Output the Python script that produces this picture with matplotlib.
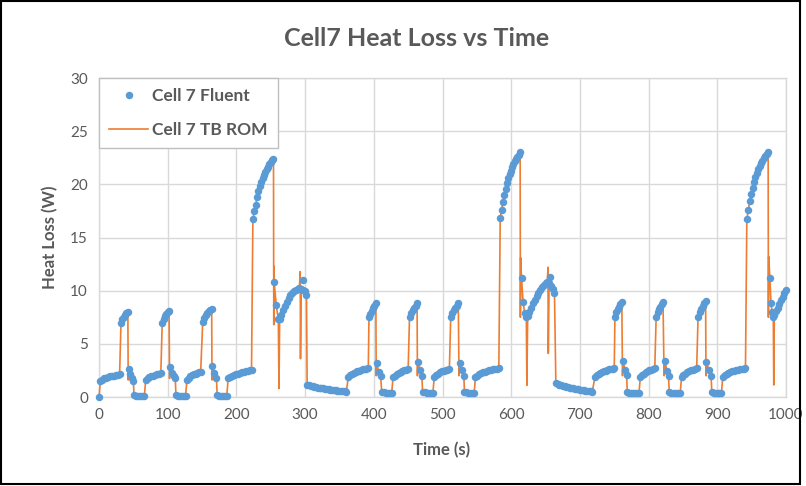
import numpy as np
import matplotlib
matplotlib.use('Agg')
import matplotlib.pyplot as plt
import matplotlib.patches as mpatches
from matplotlib.lines import Line2D

plt.rcParams['font.family'] = ['Lato', 'DejaVu Sans']

# Fluent samples, piece by piece: (start time s, end time s, heat loss W)
cycle1 = [
    (0, 0, [0.0]),
    (2, 30, [1.52, 1.64, 1.74, 1.82, 1.88, 1.93, 1.98, 2.02, 2.06, 2.10, 2.13]),
    (32, 42, [6.95, 7.3, 7.55, 7.75, 7.9, 8.03]),
    (43, 50, [2.6, 2.15, 1.76, 1.5]),
    (51, 66, [0.15, 0.12, 0.1, 0.1, 0.1, 0.1]),
    (68, 90, [1.6, 1.75, 1.86, 1.95, 2.02, 2.08, 2.13, 2.18, 2.22]),
    (92, 102, [6.95, 7.35, 7.6, 7.8, 7.98, 8.12]),
    (103.5, 111, [2.8, 2.3, 1.95, 1.76]),
    (112, 126, [0.15, 0.12, 0.1, 0.1, 0.1, 0.1]),
    (128, 148, [1.62, 1.8, 1.93, 2.03, 2.12, 2.2, 2.27, 2.33, 2.38]),
    (151, 164, [7.08, 7.45, 7.7, 7.9, 8.05, 8.15, 8.25]),
    (165, 171, [2.9, 2.25, 1.76]),
    (172, 186, [0.15, 0.12, 0.1, 0.1, 0.1, 0.1]),
    (188, 222, [1.76, 1.9, 2.0, 2.08, 2.15, 2.21, 2.27, 2.32, 2.37, 2.41, 2.45, 2.5, 2.54]),
    (224, 254, [16.7, 17.45, 18.06, 18.8, 19.35, 19.8, 20.2, 20.55, 20.85, 21.15,
                21.4, 21.65, 21.9, 22.1, 22.25, 22.4]),
    (255, 261, [10.8, 8.65, 7.3]),
    (263, 302, [7.35, 7.75, 8.15, 8.55, 8.95, 9.3, 9.55, 9.8, 9.95, 10.08,
                10.18, 10.22, 10.2, 10.1, 9.95, 9.6]),
    (303, 360, [1.15, 1.1, 1.05, 1.0, 0.96, 0.92, 0.89, 0.86, 0.83, 0.8, 0.77, 0.74,
                0.71, 0.69, 0.66, 0.64, 0.62, 0.6, 0.58, 0.56, 0.54, 0.52, 0.5]),
]

cycle2 = [
    (363, 392, [1.91, 2.05, 2.17, 2.27, 2.36, 2.43, 2.49, 2.54, 2.59, 2.63, 2.67, 2.7]),
    (393, 403, [7.55, 7.85, 8.1, 8.35, 8.6, 8.8]),
    (404, 410, [3.23, 2.38, 2.0]),
    (411.5, 426, [0.5, 0.45, 0.4, 0.38, 0.36, 0.35]),
    (428, 450, [1.85, 2.02, 2.16, 2.27, 2.36, 2.44, 2.5, 2.55, 2.6]),
    (452, 463, [7.55, 7.9, 8.15, 8.4, 8.6, 8.8]),
    (464, 470, [3.26, 2.54, 2.0]),
    (471, 486, [0.5, 0.45, 0.4, 0.38, 0.36, 0.35]),
    (488, 510, [1.9, 2.06, 2.2, 2.31, 2.4, 2.47, 2.53, 2.58, 2.62]),
    (512, 523, [7.55, 7.9, 8.15, 8.4, 8.6, 8.8]),
    (525, 531, [3.2, 2.5, 2.0]),
    (532, 546, [0.5, 0.45, 0.4, 0.38, 0.36, 0.35]),
    (548, 582, [1.85, 2.0, 2.12, 2.22, 2.31, 2.38, 2.44, 2.5, 2.55, 2.59, 2.63, 2.67, 2.7]),
    (584, 613, [16.8, 17.6, 18.3, 19.0, 19.6, 20.1, 20.55, 20.95, 21.3, 21.6,
                21.9, 22.15, 22.4, 22.6, 22.8, 23.0]),
    (615, 622, [11.2, 8.9, 7.9, 7.55]),
    (624, 663, [7.6, 8.0, 8.4, 8.8, 9.15, 9.5, 9.8, 10.1, 10.35, 10.55,
                10.75, 10.85, 10.7, 10.45, 10.15, 9.8]),
    (665, 718, [1.3, 1.22, 1.15, 1.09, 1.04, 0.99, 0.95, 0.91, 0.87, 0.84, 0.81,
                0.78, 0.75, 0.72, 0.69, 0.66, 0.63, 0.61, 0.58, 0.56, 0.53, 0.5]),
]

cycle3 = [
    (722, 750, [1.91, 2.05, 2.17, 2.27, 2.36, 2.43, 2.49, 2.54, 2.59, 2.63, 2.67, 2.7]),
    (751, 761, [7.55, 7.95, 8.25, 8.5, 8.75, 8.97]),
    (763, 768, [3.4, 2.54, 2.07]),
    (769, 786, [0.45, 0.4, 0.38, 0.36, 0.35, 0.35, 0.35]),
    (788, 809, [1.9, 2.06, 2.2, 2.32, 2.42, 2.5, 2.57, 2.63, 2.7]),
    (811, 821, [7.55, 7.95, 8.25, 8.5, 8.75, 8.97]),
    (824, 829, [3.4, 2.4, 2.0]),
    (830, 846, [0.45, 0.4, 0.38, 0.36, 0.35, 0.35]),
    (848, 870, [1.9, 2.06, 2.2, 2.32, 2.42, 2.5, 2.57, 2.63, 2.7]),
    (872, 883, [7.55, 7.95, 8.3, 8.55, 8.8, 9.05]),
    (884, 891, [3.3, 2.57, 2.0]),
    (892, 906, [0.45, 0.4, 0.38, 0.36, 0.35, 0.35]),
    (908, 941, [1.9, 2.04, 2.15, 2.25, 2.33, 2.4, 2.46, 2.51, 2.56, 2.6, 2.64, 2.67, 2.7]),
    (943, 974, [16.7, 17.55, 18.4, 19.1, 19.7, 20.2, 20.65, 21.05, 21.4, 21.7,
                21.98, 22.22, 22.45, 22.65, 22.85, 23.0]),
    (976.5, 981.5, [11.2, 8.8, 8.0, 7.55]),
    (983, 1000, [7.7, 8.05, 8.4, 8.75, 9.1, 9.45, 9.8, 10.1]),
]

# Fluent points that the ROM line does not pass through
fluent_only_t = [296.5, 656.5]
fluent_only_v = [11.0, 11.26]

# ROM overshoots / undershoots at the switching instants
rom_extra_t = [42.5, 102.7, 164.5, 254.4, 254.7, 262, 292.9, 293.3,
               403.5, 463.5, 524, 613.4, 613.8, 622.8, 653.5, 654,
               762, 822.5, 883.5, 974.4, 974.8, 982.2]
rom_extra_v = [1.6, 1.75, 1.6, 6.8, 12.3, 0.8, 11.8, 3.6,
               2.0, 2.0, 2.0, 7.5, 13.1, 1.1, 12.2, 4.1,
               2.0, 2.0, 2.0, 7.5, 13.2, 1.13]

x_ticks = [0, 100, 200, 300, 400, 500, 600, 700, 800, 900, 1000]
y_ticks = [0, 5, 10, 15, 20, 25, 30]

BLUE = '#5B9BD5'
ORANGE = '#ED7D31'
TXT = '#595959'
GRID = '#d9d9d9'

# Expand the segments into time / value arrays
seg_t, seg_v = [], []
for t0, t1, vals in cycle1 + cycle2 + cycle3:
    seg_t.extend(np.linspace(t0, t1, len(vals)))
    seg_v.extend(vals)
seg_t = np.array(seg_t)
seg_v = np.array(seg_v)

fluent_t = np.concatenate([seg_t, fluent_only_t])
fluent_v = np.concatenate([seg_v, fluent_only_v])

rom_t = np.concatenate([seg_t, rom_extra_t])
rom_v = np.concatenate([seg_v, rom_extra_v])
order = np.argsort(rom_t, kind='stable')
rom_t = rom_t[order]
rom_v = rom_v[order]

fig = plt.figure(figsize=(8.06, 4.86), dpi=100)
ax = fig.add_axes([99 / 806, 89 / 486, 687 / 806, 319 / 486])

ax.plot(rom_t, rom_v, color=ORANGE, lw=1.2, zorder=3, clip_on=False)
ax.plot(fluent_t, fluent_v, 'o', color=BLUE, ms=5.4, mew=0, zorder=4, clip_on=False)

ax.set_xlim(0, 1000)
ax.set_ylim(0, 30)
ax.set_xticks(x_ticks)
ax.set_yticks(y_ticks)
ax.grid(True, color=GRID, lw=1.0)
ax.set_axisbelow(True)
for s in ax.spines.values():
    s.set_color(GRID)
    s.set_linewidth(1.0)
ax.tick_params(length=0, labelsize=11, colors=TXT, pad=8)

fig.text(442 / 806, 1 - 450 / 486, 'Time (s)', ha='center', va='center',
         fontsize=12, fontweight='bold', color=TXT)
fig.text(50 / 806, 1 - 237 / 486, 'Heat Loss (W)', ha='center', va='center',
         rotation=90, fontsize=12, fontweight='bold', color=TXT)
fig.text(417 / 806, 1 - 38 / 486, 'Cell7 Heat Loss vs Time', ha='center', va='center',
         fontsize=18, fontweight='bold', color=TXT)

handles = [Line2D([], [], ls='none', marker='o', color=BLUE, ms=5.4, mew=0),
           Line2D([], [], color=ORANGE, lw=1.2)]
leg = ax.legend(handles, ['Cell 7 Fluent', 'Cell 7 TB ROM'], loc='upper left',
                bbox_to_anchor=(0, 1), borderaxespad=0, fancybox=False,
                framealpha=1, edgecolor='#bfbfbf', handlelength=2.2,
                labelspacing=1.0, borderpad=0.6, handletextpad=0.25,
                prop={'size': 12.5, 'weight': 'bold'})
for txt in leg.get_texts():
    txt.set_color(TXT)
leg.get_frame().set_linewidth(1.0)
leg.set_zorder(10)

# outer frame of the chart picture
fig.patches.append(mpatches.Rectangle((1 / 806, 2 / 486), 799 / 806, 483 / 486,
                                      transform=fig.transFigure, fill=False,
                                      edgecolor='black', lw=1.5))

fig.savefig('out.png', dpi=100)
